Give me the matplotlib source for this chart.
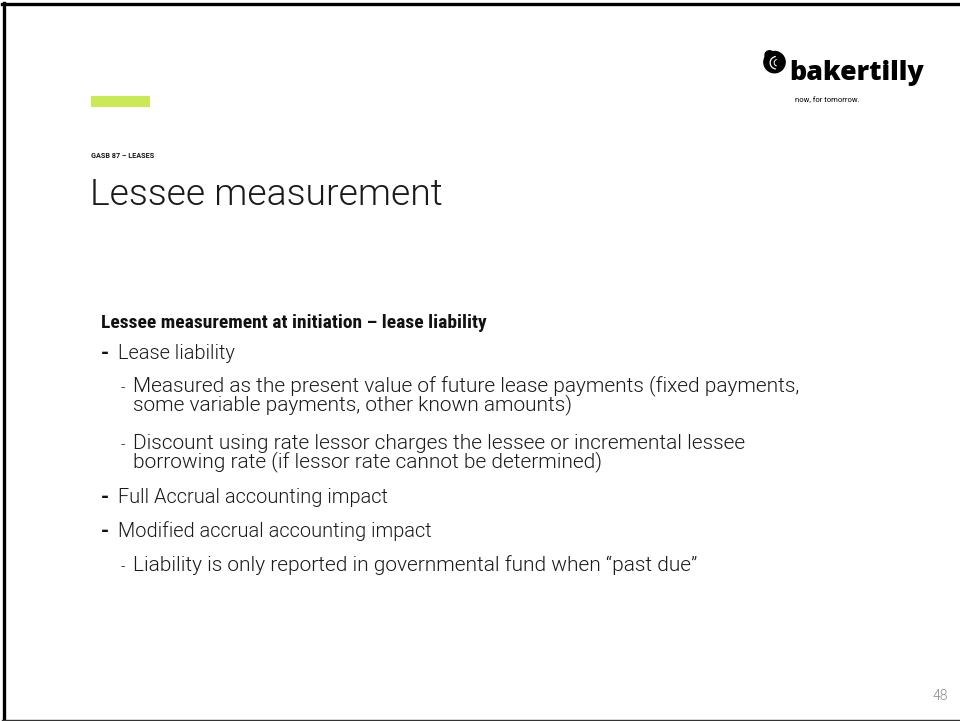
import matplotlib
matplotlib.use("Agg")
import matplotlib.pyplot as plt
from matplotlib.patches import Rectangle, Circle, Arc

W, H = 960, 721

# slide text
section_label = "GASB 87 \u2013 LEASES"
slide_title = "Lessee measurement"
heading = "Lessee measurement at initiation \u2013 lease liability"
bullet_levels = [1, 2, 2, 1, 1, 2]
bullet_texts = [
    "Lease liability",
    "Measured as the present value of future lease payments (fixed payments,\nsome variable payments, other known amounts)",
    "Discount using rate lessor charges the lessee or incremental lessee\nborrowing rate (if lessor rate cannot be determined)",
    "Full Accrual accounting impact",
    "Modified accrual accounting impact",
    "Liability is only reported in governmental fund when \u201cpast due\u201d",
]
bullet_baselines = [359, 392, 449, 503, 537, 571]
page_number = "48"
logo_name = "bakertilly"
logo_tag = "now, for tomorrow."

plt.rcParams['font.family'] = ['Roboto', 'DejaVu Sans']

fig = plt.figure(figsize=(W / 100, H / 100), dpi=100)
fig.patch.set_facecolor("white")


def fx(x):
    return x / W


def fy(y):
    return 1 - y / H


def txt(x, y, s, **kw):
    kw.setdefault("va", "baseline")
    kw.setdefault("ha", "left")
    return fig.text(fx(x), fy(y), s, **kw)


# slide border (top, left, bottom)
fig.add_artist(plt.Line2D([fx(2), fx(960)], [fy(4), fy(4)], color="black", lw=2.4))
fig.add_artist(plt.Line2D([fx(3.5), fx(3.5)], [fy(3), fy(720)], color="black", lw=2.4))
fig.add_artist(plt.Line2D([fx(2), fx(960)], [fy(719.5), fy(719.5)], color="#333333", lw=1.0))

# lime accent bar
fig.add_artist(Rectangle((fx(91), fy(107)), fx(150) - fx(91), fy(96) - fy(107),
                         transform=fig.transFigure, color="#cbe955", lw=0))

# logo mark
ax_logo = fig.add_axes([fx(762), fy(74), fx(25), fy(0) - fy(25)])
ax_logo.set_xlim(-1, 1)
ax_logo.set_ylim(-1, 1)
ax_logo.set_aspect("equal")
ax_logo.axis("off")
ax_logo.add_patch(Circle((0.0, -0.05), 0.85, color="black"))
ax_logo.add_patch(Circle((-0.4, 0.5), 0.36, color="black"))
ax_logo.add_patch(Arc((0.15, -0.1), 1.0, 1.0, theta1=95, theta2=265, color="white", lw=0.9))
ax_logo.add_patch(Arc((0.25, -0.1), 0.55, 0.55, theta1=105, theta2=255, color="white", lw=0.7))
txt(789, 80, logo_name, fontsize=19.3, fontweight=800, family=["Open Sans", "DejaVu Sans"],
    color="black")
txt(795, 102, logo_tag, fontsize=5.5, color="black")

# section label and title
txt(91, 158, section_label, fontsize=5.2, fontweight="bold", color="#1a1a1a")
txt(90, 205, slide_title, fontsize=26.8, fontweight=300, color="#1a1a1a")

# heading
txt(101, 328, heading, fontsize=14, fontweight="bold",
    family=["Roboto Condensed", "DejaVu Sans"], color="#111111")

# bullets (multi-line texts: va='baseline' pins the last line)
pitch = 18
for lvl, s, yb in zip(bullet_levels, bullet_texts, bullet_baselines):
    n_lines = s.count("\n") + 1
    if lvl == 1:
        txt(101, yb, "-", fontsize=15, fontweight="bold", color="#111111")
        txt(118, yb, s, fontsize=14.4, fontweight=300, color="#1a1a1a")
    else:
        txt(121, yb, "-", fontsize=11, fontweight=300, color="#1a1a1a")
        txt(133, yb + pitch * (n_lines - 1), s, fontsize=15, fontweight=300,
            color="#1a1a1a", linespacing=0.84)

# page number
txt(948, 700, page_number, fontsize=10, fontweight=300, color="#8a8a8a", ha="right")

fig.savefig("out.png", dpi=100, facecolor="white")
